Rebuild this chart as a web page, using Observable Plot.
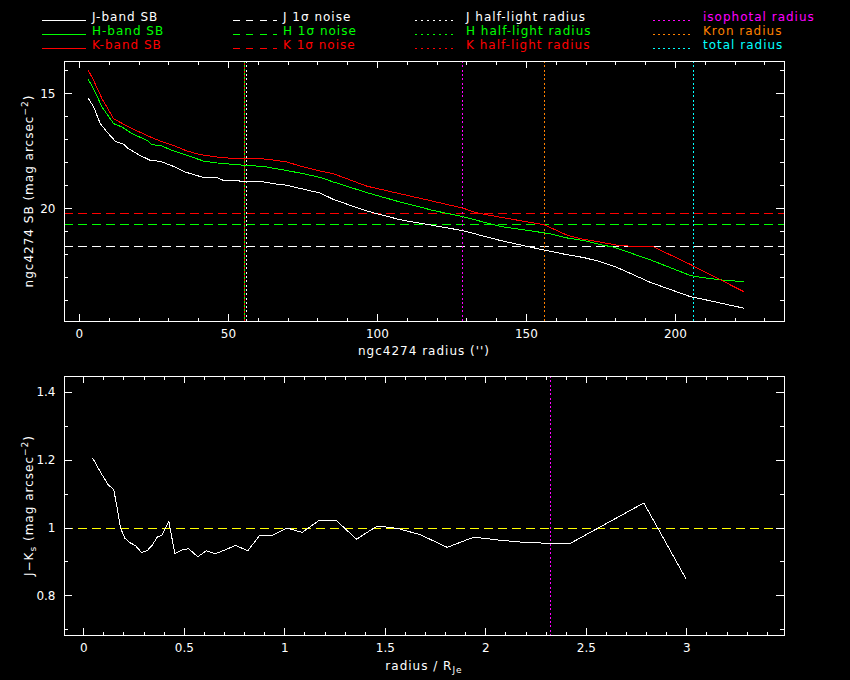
<!DOCTYPE html>
<html>
<head>
<meta charset="utf-8">
<script src="https://cdn.jsdelivr.net/npm/d3@7"></script>
<script src="https://cdn.jsdelivr.net/npm/@observablehq/plot@0.6"></script>
<style>
  html, body { margin: 0; padding: 0; background: #000; }
  #root { position: relative; width: 850px; height: 680px; background: #000; overflow: hidden; }
  #root > svg { position: absolute; left: 0; background: transparent; }
</style>
</head>
<body>
<div id="root"></div>
<script>
// ---------------- DATA ----------------
// J-band surface brightness profile
const radiusJ = [2.9, 4.8, 7.0, 9.3, 12.1, 14.9, 16.0, 19.9, 23.8, 27.2, 31.6, 35.0, 38.4, 41.7, 46.2, 48.4, 55.1, 60.7, 65.2, 69.7, 74.2, 80.9, 85.3, 96.5, 107.7, 118.9, 128.6, 141.3, 152.5, 158.1, 163.7, 169.2, 174.8, 180.4, 191.6, 205.0, 211.7, 222.9];
const sbJ     = [15.18, 15.58, 16.30, 16.67, 17.07, 17.20, 17.35, 17.65, 17.90, 17.94, 18.16, 18.38, 18.52, 18.64, 18.65, 18.77, 18.80, 18.81, 18.91, 18.98, 19.12, 19.32, 19.60, 20.10, 20.48, 20.73, 20.95, 21.38, 21.70, 21.85, 22.00, 22.12, 22.30, 22.55, 23.20, 23.82, 24.00, 24.32];
// H-band surface brightness profile
const radiusH = [2.9, 4.8, 7.6, 11.5, 14.3, 17.7, 22.7, 24.4, 27.2, 31.6, 36.1, 41.7, 46.2, 55.1, 61.8, 67.4, 74.2, 80.9, 85.3, 96.5, 107.7, 118.9, 128.6, 141.3, 152.5, 158.1, 163.7, 169.2, 174.8, 179.3, 191.6, 205.0, 209.5, 215.1, 222.9];
const sbH     = [14.36, 14.80, 15.58, 16.30, 16.45, 16.74, 17.03, 17.22, 17.25, 17.49, 17.68, 17.93, 18.01, 18.11, 18.16, 18.29, 18.45, 18.64, 18.84, 19.30, 19.71, 20.08, 20.34, 20.77, 20.98, 21.09, 21.27, 21.38, 21.56, 21.67, 22.22, 22.90, 23.00, 23.09, 23.17];
// K-band surface brightness profile
const radiusK = [2.9, 4.8, 7.6, 11.5, 14.9, 19.4, 23.8, 27.2, 31.6, 36.1, 40.6, 46.2, 51.8, 63.0, 69.7, 74.2, 80.9, 85.3, 96.5, 107.7, 118.9, 128.6, 133.4, 141.3, 155.8, 163.7, 169.2, 174.8, 180.4, 186.0, 192.7, 205.0, 215.1, 222.9];
const sbK     = [13.96, 14.43, 15.22, 16.09, 16.33, 16.62, 16.88, 17.06, 17.25, 17.49, 17.65, 17.75, 17.82, 17.84, 17.97, 18.15, 18.36, 18.48, 19.02, 19.35, 19.68, 19.97, 20.18, 20.37, 20.69, 21.15, 21.33, 21.45, 21.58, 21.64, 21.66, 22.42, 23.09, 23.60];
// 1-sigma noise levels (mag arcsec^-2): J, H, K
const noiseJ = 21.65, noiseH = 20.70, noiseK = 20.22;
// radii (arcsec)
const halfLightJ = 56.2, halfLightH = 55.5, halfLightK = 55.5;
const isophotalRadius = 128.6, kronRadius = 156.1, totalRadius = 206.2;
// J-Ks colour profile vs radius / R_Je
const colorRadius = [0.045, 0.067, 0.091, 0.121, 0.149, 0.166, 0.183, 0.204, 0.232, 0.257, 0.287, 0.315, 0.340, 0.365, 0.390, 0.423, 0.453, 0.490, 0.522, 0.567, 0.609, 0.655, 0.705, 0.755, 0.816, 0.876, 0.937, 1.012, 1.087, 1.169, 1.257, 1.357, 1.451, 1.493, 1.567, 1.675, 1.808, 1.940, 2.073, 2.206, 2.322, 2.418, 2.786, 2.994];
const colorJK     = [1.205, 1.182, 1.157, 1.128, 1.113, 1.059, 1.000, 0.970, 0.956, 0.948, 0.928, 0.933, 0.949, 0.973, 0.980, 1.020, 0.924, 0.936, 0.939, 0.915, 0.933, 0.924, 0.936, 0.949, 0.933, 0.979, 0.978, 1.000, 0.987, 1.022, 1.022, 0.967, 1.003, 1.004, 0.998, 0.980, 0.943, 0.973, 0.964, 0.957, 0.955, 0.954, 1.074, 0.852];
const colorReference = 1;
const isophotalRadiusNorm = 2.32;
// tick labels
const xTicksTop = [0, 50, 100, 150, 200];
const yTicksTop = [15, 20];
const xTicksBottom = [0, 0.5, 1, 1.5, 2, 2.5, 3];
const yTicksBottom = [0.8, 1, 1.2, 1.4];
// legend texts
const legendCol1 = ["J-band SB", "H-band SB", "K-band SB"];
const legendCol2 = ["J 1σ noise", "H 1σ noise", "K 1σ noise"];
const legendCol3 = ["J half-light radius", "H half-light radius", "K half-light radius"];
const legendCol4 = ["isophotal radius", "Kron radius", "total radius"];

// ---------------- STYLE ----------------
const FONT = "'DejaVu Sans', sans-serif";
const WHITE = "#ffffff", GREEN = "#00ff00", RED = "#ff0000";
const MAGENTA = "#ff00ff", ORANGE = "#ff8000", CYAN = "#00ffff", YELLOW = "#ffff00";
const DASH = "9,5", DOT = "2,2.3";
const CRISP = "crispEdges";
const root = document.getElementById("root");

function frameTicks(xMaj, xMin, yMaj, yMin, innerW, innerH) {
  const XL = 7, XS = 3.5, YL = 8, YS = 4;
  const t = [];
  const o = {stroke: WHITE, strokeWidth: 1, shapeRendering: CRISP};
  t.push(Plot.tickX(xMaj, {...o, x: d => d, insetTop: innerH - XL}));
  t.push(Plot.tickX(xMaj, {...o, x: d => d, insetBottom: innerH - XL}));
  t.push(Plot.tickX(xMin, {...o, x: d => d, insetTop: innerH - XS}));
  t.push(Plot.tickX(xMin, {...o, x: d => d, insetBottom: innerH - XS}));
  t.push(Plot.tickY(yMaj, {...o, y: d => d, insetRight: innerW - YL}));
  t.push(Plot.tickY(yMaj, {...o, y: d => d, insetLeft: innerW - YL}));
  t.push(Plot.tickY(yMin, {...o, y: d => d, insetRight: innerW - YS}));
  t.push(Plot.tickY(yMin, {...o, y: d => d, insetLeft: innerW - YS}));
  return t;
}

const plotStyle = {background: "transparent", color: "white", fontFamily: FONT, fontSize: "12px"};

// ---------------- TOP PANEL ----------------
const tableJ = radiusJ.map((r, i) => ({r, sb: sbJ[i]}));
const tableH = radiusH.map((r, i) => ({r, sb: sbH[i]}));
const tableK = radiusK.map((r, i) => ({r, sb: sbK[i]}));

const topW = 850, topH = 375, topML = 64, topMR = 66, topMT = 61, topMB = 54;
const topInnerW = topW - topML - topMR, topInnerH = topH - topMT - topMB;

const topPlot = Plot.plot({
  width: topW, height: topH,
  marginLeft: topML, marginRight: topMR, marginTop: topMT, marginBottom: topMB,
  style: plotStyle,
  x: {domain: [-5, 236.6]},
  y: {domain: [13.6, 24.9], reverse: true},
  marks: [
    Plot.ruleY([noiseK], {stroke: RED, strokeDasharray: DASH, shapeRendering: CRISP}),
    Plot.ruleY([noiseH], {stroke: GREEN, strokeDasharray: DASH, shapeRendering: CRISP}),
    Plot.ruleY([noiseJ], {stroke: WHITE, strokeDasharray: DASH, shapeRendering: CRISP}),
    Plot.ruleX([halfLightJ], {stroke: WHITE, strokeDasharray: DOT, shapeRendering: CRISP}),
    Plot.ruleX([halfLightH], {stroke: GREEN, strokeDasharray: "2,2", shapeRendering: CRISP}),
    Plot.ruleX([halfLightK], {stroke: RED, strokeDasharray: "2,2", strokeDashoffset: 2, shapeRendering: CRISP}),
    Plot.ruleX([isophotalRadius], {stroke: MAGENTA, strokeDasharray: DOT, shapeRendering: CRISP}),
    Plot.ruleX([kronRadius], {stroke: ORANGE, strokeDasharray: DOT, shapeRendering: CRISP}),
    Plot.ruleX([totalRadius], {stroke: CYAN, strokeDasharray: DOT, shapeRendering: CRISP}),
    Plot.line(tableJ, {x: "r", y: "sb", stroke: WHITE, strokeWidth: 1, shapeRendering: CRISP}),
    Plot.line(tableH, {x: "r", y: "sb", stroke: GREEN, strokeWidth: 1, shapeRendering: CRISP}),
    Plot.line(tableK, {x: "r", y: "sb", stroke: RED, strokeWidth: 1, shapeRendering: CRISP}),
    Plot.frame({stroke: WHITE, shapeRendering: CRISP}),
    ...frameTicks(xTicksTop, d3.range(0, 240, 10), yTicksTop, d3.range(14, 25), topInnerW, topInnerH),
    Plot.axisX({ticks: xTicksTop, tickSize: 0, tickPadding: 8, label: null, tickFormat: d => String(d)}),
    Plot.axisY({ticks: yTicksTop, tickSize: 0, tickPadding: 9, label: null, tickFormat: d => String(d)})
  ]
});
topPlot.style.top = "0px";
root.appendChild(topPlot);

const sTop = d3.select(topPlot);
sTop.append("text")
  .attr("x", topML + topInnerW / 2).attr("y", topH - topMB + 34)
  .attr("text-anchor", "middle").attr("fill", WHITE)
  .attr("font-family", FONT).attr("font-size", 12).attr("letter-spacing", "1px")
  .text("ngc4274 radius ('')");
{
  const t = sTop.append("text")
    .attr("transform", `translate(33,${topMT + topInnerH / 2}) rotate(-90)`)
    .attr("text-anchor", "middle").attr("fill", WHITE)
    .attr("font-family", FONT).attr("font-size", 12).attr("letter-spacing", "1px");
  t.append("tspan").text("ngc4274 SB (mag arcsec");
  t.append("tspan").attr("dy", -5).attr("font-size", 9).text("−2");
  t.append("tspan").attr("dy", 5).text(")");
}

// ---------------- BOTTOM PANEL ----------------
const colorTable = colorRadius.map((x, i) => ({x, c: colorJK[i]}));
const botW = 850, botH = 305, botML = 64, botMR = 66, botMT = 1, botMB = 45;
const botInnerW = botW - botML - botMR, botInnerH = botH - botMT - botMB;

const botPlot = Plot.plot({
  width: botW, height: botH,
  marginLeft: botML, marginRight: botMR, marginTop: botMT, marginBottom: botMB,
  style: plotStyle,
  x: {domain: [-0.096, 3.486]},
  y: {domain: [0.683, 1.447]},
  marks: [
    Plot.ruleY([colorReference], {stroke: YELLOW, strokeDasharray: DASH, shapeRendering: CRISP}),
    Plot.ruleX([isophotalRadiusNorm], {stroke: MAGENTA, strokeDasharray: DOT, shapeRendering: CRISP}),
    Plot.line(colorTable, {x: "x", y: "c", stroke: WHITE, strokeWidth: 1, shapeRendering: CRISP}),
    Plot.frame({stroke: WHITE, shapeRendering: CRISP}),
    ...frameTicks(xTicksBottom, d3.range(0, 35).map(i => i / 10), yTicksBottom, d3.range(7, 15).map(i => i / 10), botInnerW, botInnerH),
    Plot.axisX({ticks: xTicksBottom, tickSize: 0, tickPadding: 8, label: null, tickFormat: d => String(d)}),
    Plot.axisY({ticks: yTicksBottom, tickSize: 0, tickPadding: 9, label: null, tickFormat: d => String(d)})
  ]
});
botPlot.style.top = "375px";
root.appendChild(botPlot);

const sBot = d3.select(botPlot);
{
  const t = sBot.append("text")
    .attr("x", botML + botInnerW / 2).attr("y", botH - botMB + 35)
    .attr("text-anchor", "middle").attr("fill", WHITE)
    .attr("font-family", FONT).attr("font-size", 12).attr("letter-spacing", "1px");
  t.append("tspan").text("radius / R");
  t.append("tspan").attr("dy", 3).attr("font-size", 9).text("Je");
}
{
  const t = sBot.append("text")
    .attr("transform", `translate(33,${botMT + botInnerH / 2}) rotate(-90)`)
    .attr("text-anchor", "middle").attr("fill", WHITE)
    .attr("font-family", FONT).attr("font-size", 12).attr("letter-spacing", "1px");
  t.append("tspan").text("J−K");
  t.append("tspan").attr("dy", 3).attr("font-size", 9).text("s");
  t.append("tspan").attr("dy", -3).text(" (mag arcsec");
  t.append("tspan").attr("dy", -5).attr("font-size", 9).text("−2");
  t.append("tspan").attr("dy", 5).text(")");
}

// ---------------- LEGEND ----------------
const legend = d3.create("svg").attr("width", 850).attr("height", 58).style("top", "0px");
const rowsY = [20.5, 34.5, 48.5];
const colors3 = [WHITE, GREEN, RED];
const cols = [
  {labels: legendCol1, colors: colors3, x0: 42, x1: 86, tx: 92, dash: null},
  {labels: legendCol2, colors: colors3, x0: 233, x1: 277, tx: 283, dash: "7,6.3"},
  {labels: legendCol3, colors: colors3, x0: 415, x1: 457, tx: 466, dash: "1.5,4.5"},
  {labels: legendCol4, colors: [MAGENTA, ORANGE, CYAN], x0: 653, x1: 693, tx: 703, dash: "1.5,3.5"}
];
cols.forEach(c => {
  c.labels.forEach((lab, i) => {
    const y = rowsY[i];
    const ln = legend.append("line")
      .attr("x1", c.x0).attr("x2", c.x1).attr("y1", y - 0.5).attr("y2", y - 0.5)
      .attr("stroke", c.colors[i]).attr("stroke-width", 1)
      .attr("shape-rendering", CRISP);
    if (c.dash) ln.attr("stroke-dasharray", c.dash);
    legend.append("text")
      .attr("x", c.tx).attr("y", y)
      .attr("fill", c.colors[i]).attr("font-family", FONT).attr("font-size", 12)
      .attr("letter-spacing", "1px").text(lab);
  });
});
root.appendChild(legend.node());
</script>
</body>
</html>
